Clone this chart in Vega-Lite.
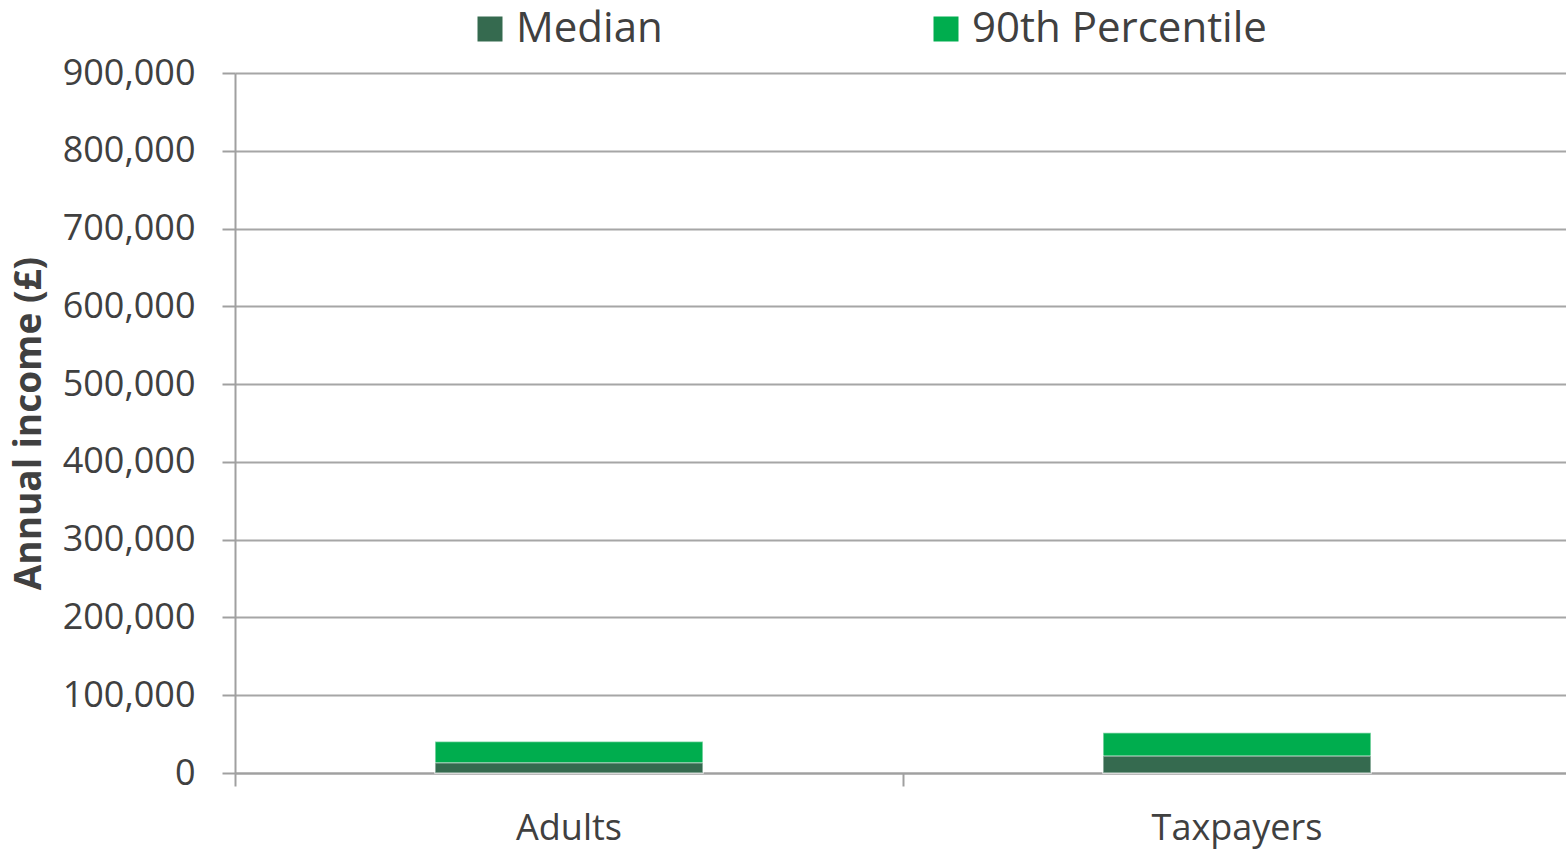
{
  "$schema": "https://vega.github.io/schema/vega-lite/v6.json",
  "autosize": {"type": "none"},
  "width": 1336,
  "height": 700,
  "padding": {"left": 235, "top": 73, "right": 0, "bottom": 77},
  "background": "white",
  "config": {
    "view": {"stroke": null},
    "font": "Open Sans",
    "axis": {"labelFont": "Open Sans", "titleFont": "Open Sans", "labelColor": "#404040", "titleColor": "#404040"}
  },
  "data": {
    "values": [
      {"group": "Adults", "measure": "90th Percentile", "value": 40500},
      {"group": "Taxpayers", "measure": "90th Percentile", "value": 51600},
      {"group": "Adults", "measure": "Median", "value": 13100},
      {"group": "Taxpayers", "measure": "Median", "value": 22000}
    ]
  },
  "resolve": {"axis": {"x": "independent"}},
  "layer": [
    {
      "transform": [{"filter": "datum.measure === '90th Percentile'"}],
      "mark": {"type": "bar", "stroke": "#ffffff", "strokeOpacity": 0.5, "strokeWidth": 1.5},
      "encoding": {
        "x": {
          "field": "group", "type": "nominal", "sort": ["Adults", "Taxpayers"],
          "scale": {"paddingInner": 0.599, "paddingOuter": 0.2995},
          "axis": {"orient": "bottom", "title": null, "labelAngle": 0, "labelFontSize": 36, "ticks": false, "domain": true, "domainColor": "#a0a0a0", "domainWidth": 2, "labelPadding": 38, "grid": false}
        },
        "y": {
          "field": "value", "type": "quantitative", "stack": null,
          "scale": {"domain": [0, 900000], "nice": false},
          "axis": {
            "title": "Annual income (£)", "titleFontSize": 37, "titleFontWeight": "bold", "titlePadding": 14,
            "values": [0, 100000, 200000, 300000, 400000, 500000, 600000, 700000, 800000, 900000],
            "format": ",d", "labelFontSize": 36, "labelPadding": 27, "tickSize": 13,
            "tickColor": "#a0a0a0", "tickWidth": 2, "domainColor": "#a0a0a0", "domainWidth": 2,
            "grid": true, "gridColor": "#a6a6a6", "gridWidth": 2
          }
        },
        "color": {
          "field": "measure", "type": "nominal",
          "scale": {"domain": ["Median", "90th Percentile"], "range": ["#356A4F", "#00AD4E"]},
          "legend": {
            "title": null, "orient": "none", "direction": "horizontal", "legendX": 234, "legendY": -65,
            "symbolType": "square", "symbolSize": 625, "symbolStrokeWidth": 0, "labelFontSize": 42, "labelColor": "#404040",
            "labelFont": "Open Sans", "labelLimit": 0, "columnPadding": 262, "labelOffset": 5, "padding": 0
          }
        }
      }
    },
    {
      "transform": [{"filter": "datum.measure === 'Median'"}],
      "mark": {"type": "bar", "stroke": "#ffffff", "strokeOpacity": 0.5, "strokeWidth": 1.5},
      "encoding": {
        "x": {
          "field": "group", "type": "nominal", "sort": ["Adults", "Taxpayers"],
          "axis": {"orient": "bottom", "title": null, "labels": false, "ticks": true, "tickSize": 13, "tickColor": "#a0a0a0", "tickWidth": 2, "bandPosition": -0.746, "domain": false, "grid": false}
        },
        "y": {"field": "value", "type": "quantitative", "stack": null},
        "color": {"field": "measure", "type": "nominal"}
      }
    }
  ]
}
